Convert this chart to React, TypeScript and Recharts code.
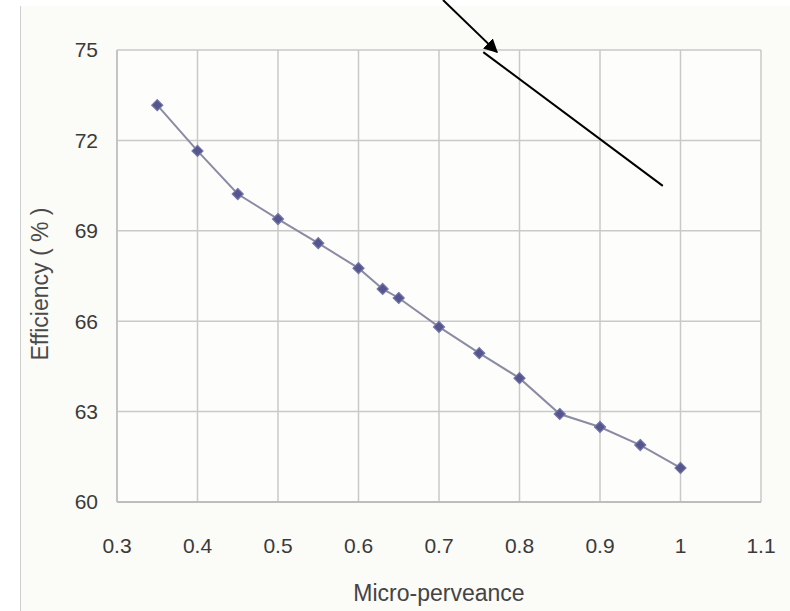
import React from "react";
import {
  LineChart,
  Line,
  XAxis,
  YAxis,
  CartesianGrid,
  ReferenceLine,
} from "recharts";

const perveance = [0.35, 0.4, 0.45, 0.5, 0.55, 0.6, 0.63, 0.65, 0.7, 0.75, 0.8, 0.85, 0.9, 0.95, 1.0];
const efficiency = [73.17, 71.65, 70.22, 69.39, 68.59, 67.76, 67.07, 66.77, 65.81, 64.94, 64.11, 62.92, 62.49, 61.89, 61.13];
const xTicks = [0.3, 0.4, 0.5, 0.6, 0.7, 0.8, 0.9, 1.0, 1.1];
const yTicks = [60, 63, 66, 69, 72, 75];
const xLabel = "Micro-perveance";
const yLabel = "Efficiency ( % )";

// annotation arrows (data coordinates)
const arrowSegment = [
  { x: 0.705, y: 76.66 },
  { x: 0.772, y: 74.93 },
];
const lineSegment = [
  { x: 0.755, y: 74.93 },
  { x: 0.978, y: 70.49 },
];

const FONT = "'Liberation Sans Narrow', 'Arial Narrow', 'Liberation Sans', Arial, sans-serif";

const data = perveance.map((p, i) => ({ p, e: efficiency[i] }));

const Diamond = (props: any) => {
  const { cx, cy } = props;
  if (cx == null || cy == null) return null;
  const r = 5.5;
  return (
    <path
      d={`M${cx},${cy - r}L${cx + r},${cy}L${cx},${cy + r}L${cx - r},${cy}Z`}
      fill="#55568d"
      stroke="#7475a8"
      strokeWidth={1.2}
    />
  );
};

const YLabel = (props: any) => {
  const vb = props.viewBox || {};
  const cy = (vb.y ?? 0) + (vb.height ?? 0) / 2 + 8;
  const cx = 40;
  return (
    <text
      x={cx}
      y={cy}
      transform={`rotate(-90, ${cx}, ${cy})`}
      textAnchor="middle"
      dominantBaseline="central"
      fontFamily={FONT}
      fontSize={23}
      fill="#4a4a4a"
    >
      {yLabel}
    </text>
  );
};

export default function App() {
  return (
    <div
      style={{
        position: "absolute",
        left: 0,
        top: 0,
        width: 790,
        height: 611,
        background: "#ffffff",
      }}
    >
      <div
        style={{
          position: "absolute",
          left: 20,
          top: 6,
          width: 770,
          height: 605,
          background: "#fbfbf8",
          borderLeft: "1px solid #cfcfcf",
        }}
      />
      <div style={{ position: "absolute", left: 0, top: 0 }}>
        <LineChart
          width={790}
          height={611}
          data={data}
          margin={{ top: 50, right: 29, bottom: 0, left: 0 }}
        >
          <defs>
            <marker
              id="arrowHead"
              viewBox="0 0 10 10"
              refX="9"
              refY="5"
              markerWidth="7"
              markerHeight="7"
              orient="auto-start-reverse"
            >
              <path d="M0,0L10,5L0,10Z" fill="#000" />
            </marker>
          </defs>
          <CartesianGrid stroke="#c9c9c9" strokeWidth={1.5} fill="#fdfdfb" />
          <XAxis
            dataKey="p"
            type="number"
            domain={[0.3, 1.1]}
            ticks={xTicks}
            tickFormatter={(v: number) => String(Math.round(v * 10) / 10)}
            height={109}
            axisLine={{ stroke: "#bdbdbd", strokeWidth: 2 }}
            tickLine={false}
            tickSize={0}
            tickMargin={36}
            tick={{ fill: "#3a3a3a", fontSize: 21, fontFamily: FONT }}
            label={{
              value: xLabel,
              position: "insideBottom",
              offset: 10,
              fill: "#444",
              fontSize: 23,
              fontFamily: FONT,
            }}
            interval={0}
            allowDataOverflow
          />
          <YAxis
            type="number"
            domain={[60, 75]}
            ticks={yTicks}
            width={117}
            axisLine={{ stroke: "#c4c4c4", strokeWidth: 2 }}
            tickLine={false}
            tickSize={0}
            tickMargin={19}
            tick={{ fill: "#3a3a3a", fontSize: 21, fontFamily: FONT }}
            label={<YLabel />}
            interval={0}
            allowDataOverflow
          />
          <Line
            dataKey="e"
            stroke="#8b8ca3"
            strokeWidth={2}
            dot={<Diamond />}
            activeDot={false}
            isAnimationActive={false}
          />
          <ReferenceLine
            segment={arrowSegment}
            stroke="#000"
            strokeWidth={2}
            ifOverflow="visible"
            markerEnd="url(#arrowHead)"
          />
          <ReferenceLine
            segment={lineSegment}
            stroke="#000"
            strokeWidth={2}
            ifOverflow="visible"
          />
        </LineChart>
      </div>
    </div>
  );
}
